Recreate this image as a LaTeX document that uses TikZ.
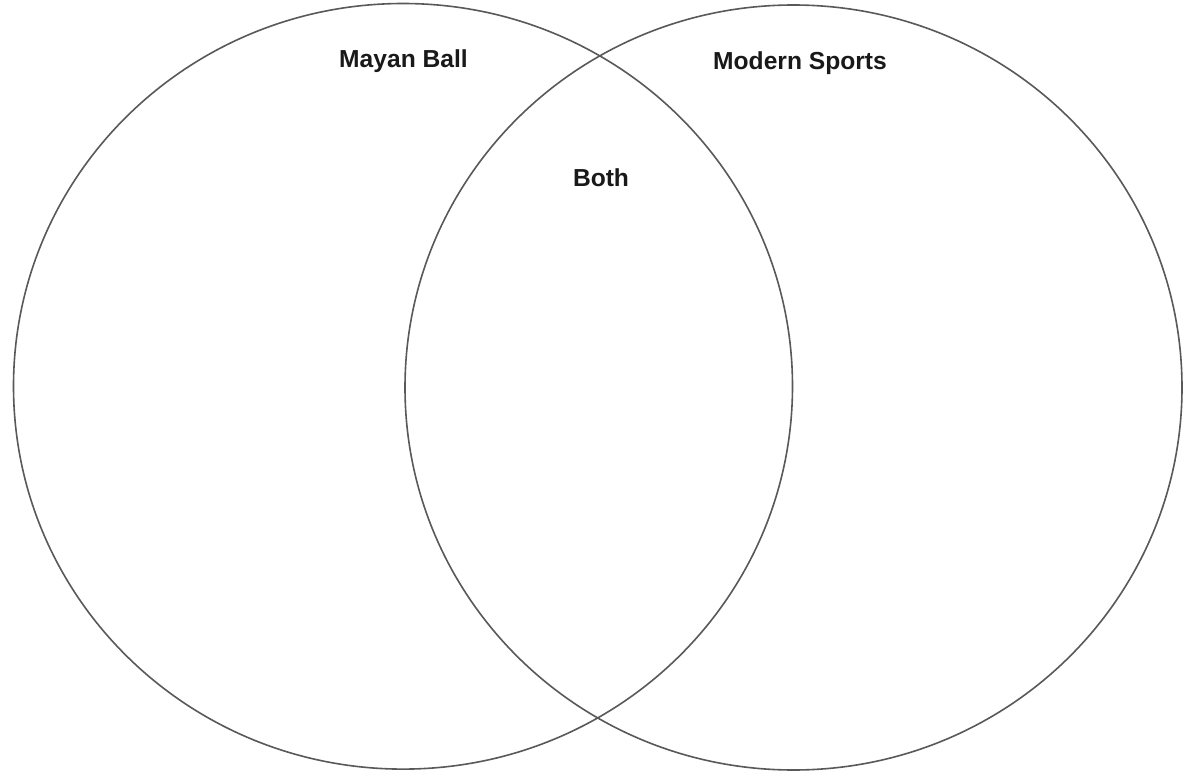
\documentclass[tikz,border=0pt]{standalone}
\usepackage{fontspec}
\setmainfont{Liberation Sans}
\begin{document}
\begin{tikzpicture}[x=1pt,y=-1pt,
  ring/.style={draw=black!65, line width=1.6pt},
  lbl/.style={font=\fontsize{24.6}{29}\selectfont\bfseries, text=black!90, inner sep=0pt}]
\useasboundingbox[fill=white] (0,0) rectangle (1184,771);
\draw[ring] (403,386.3) ellipse [x radius=389.5, y radius=382.8];
\draw[ring] (793.5,387.5) ellipse [x radius=388.5, y radius=382.5];
\node[lbl] (mayan) at (403.5,61) {Mayan Ball};
\node[lbl] (modern) at (800,63) {Modern Sports};
\node[lbl] (both) at (601,178) {Both};
\end{tikzpicture}
\end{document}
